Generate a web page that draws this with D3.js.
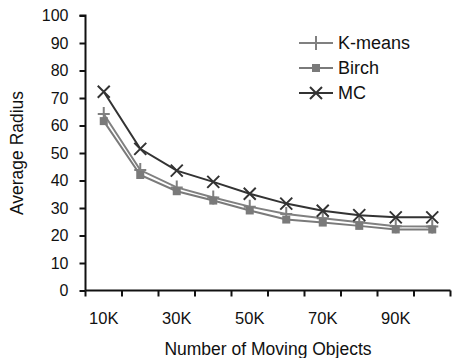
<!DOCTYPE html>
<html><head><meta charset="utf-8">
<script src="https://cdn.jsdelivr.net/npm/d3@7"></script>
<style>body{margin:0;background:#fff}svg{display:block}text{font-family:"Liberation Sans",Arial,sans-serif;fill:#111}</style>
</head><body><svg id="c" width="452" height="358"></svg>
<script>
const categories = ["10K","20K","30K","40K","50K","60K","70K","80K","90K","100K"];
const tickLabels = ["10K","30K","50K","70K","90K"];
const kmeans = [64.2, 43.8, 37.5, 33.8, 30.5, 27.8, 26.3, 24.8, 23.4, 23.3];
const birch  = [61.6, 42.0, 36.1, 32.7, 29.1, 25.8, 24.7, 23.5, 22.2, 22.2];
const mc     = [72.3, 51.5, 43.6, 39.5, 35.2, 31.6, 29.0, 27.4, 26.6, 26.6];
const yTicks = [0,10,20,30,40,50,60,70,80,90,100];

const svg = d3.select("#c");
const x = d3.scaleBand().domain(categories).range([85.5, 450.5]);
const y = d3.scaleLinear().domain([0,100]).range([290.5, 15.5]);

const series = [
  {name:"K-means", values:kmeans, color:"#808080", marker:"plus"},
  {name:"Birch", values:birch, color:"#7a7a7a", marker:"square"},
  {name:"MC", values:mc, color:"#333333", marker:"x"}
];

const yAxis = d3.axisLeft(y).tickValues(yTicks).tickSize(6).tickPadding(11);
const gy = svg.append("g").attr("transform","translate(85.5,0)").call(yAxis);
gy.select(".domain").attr("stroke","#111").attr("stroke-width",2).attr("d","M-6,15.5H0V290.5");
gy.selectAll(".tick line").attr("stroke","#111").attr("stroke-width",2);
gy.selectAll(".tick text").style("font-size","16px").attr("fill","#111").style("font-family","'Liberation Sans',Arial,sans-serif");

const gx = svg.append("g").attr("transform","translate(0,290.5)");
gx.append("line").attr("x1",85.5).attr("x2",450.5).attr("stroke","#111").attr("stroke-width",2);
const bounds = categories.map(c=>x(c)).concat([x.range()[1]]);
gx.selectAll("line.t").data(bounds).enter().append("line").attr("class","t")
  .attr("x1",d=>d).attr("x2",d=>d).attr("y1",0).attr("y2",6).attr("stroke","#111").attr("stroke-width",2);
gx.selectAll("text").data(tickLabels).enter().append("text")
  .attr("x",d=>x(d)+x.bandwidth()/2).attr("y",33).attr("text-anchor","middle")
  .style("font-size","16.5px").text(d=>d);

svg.append("text").attr("x",268).attr("y",355).attr("text-anchor","middle")
  .style("font-size","17.5px").text("Number of Moving Objects");
svg.append("text").attr("transform","translate(23,153) rotate(-90)").attr("text-anchor","middle")
  .style("font-size","17.5px").text("Average Radius");

function drawMarker(g, type, color, cx, cy){
  if(type==="plus"){
    g.append("path").attr("d",`M${cx-6},${cy}H${cx+6}M${cx},${cy-7}V${cy+7}`).attr("stroke",color).attr("stroke-width",2).attr("fill","none");
  } else if(type==="square"){
    g.append("rect").attr("x",cx-4).attr("y",cy-4).attr("width",8).attr("height",8).attr("fill",color);
  } else {
    g.append("path").attr("d",`M${cx-6},${cy-6}L${cx+6},${cy+6}M${cx-6},${cy+6}L${cx+6},${cy-6}`).attr("stroke",color).attr("stroke-width",2).attr("fill","none");
  }
}

const line = d3.line().x((d,i)=>x(categories[i])+x.bandwidth()/2).y(d=>y(d));
series.forEach(s=>{
  const g = svg.append("g");
  g.append("path").attr("d",line(s.values)).attr("fill","none").attr("stroke",s.color).attr("stroke-width",2);
  s.values.forEach((v,i)=>drawMarker(g,s.marker,s.color,x(categories[i])+x.bandwidth()/2,y(v)));
});

const legY = [43,68,93];
series.forEach((s,i)=>{
  const g = svg.append("g");
  g.append("line").attr("x1",299).attr("x2",333).attr("y1",legY[i]).attr("y2",legY[i]).attr("stroke",s.color).attr("stroke-width",2);
  drawMarker(g,s.marker,s.color,316,legY[i]);
  g.append("text").attr("x",338).attr("y",legY[i]+6).style("font-size","18px").text(s.name);
});
</script></body></html>
